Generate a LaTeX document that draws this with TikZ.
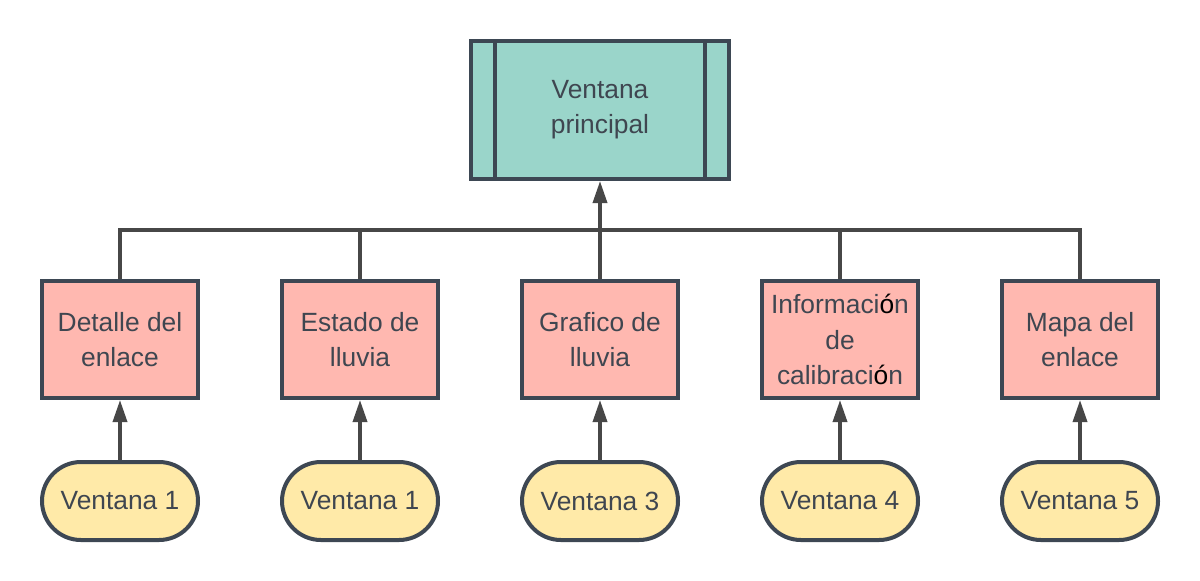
\documentclass[tikz,border=0pt]{standalone}
\usepackage{fontspec}
\setmainfont{Liberation Sans}
\usetikzlibrary{positioning,arrows.meta}

\definecolor{bordergray}{HTML}{3D4753}
\definecolor{textgray}{HTML}{3F4650}
\definecolor{linegray}{HTML}{474747}
\definecolor{tealfill}{HTML}{9AD5CA}
\definecolor{pinkfill}{HTML}{FFB8B0}
\definecolor{yellowfill}{HTML}{FFEAA8}

\tikzset{
  box/.style={draw=bordergray,line width=0.08cm,text=textgray,align=center,
    font=\fontsize{15}{20}\selectfont},
  mainbox/.style={box,fill=tealfill,minimum width=5.16cm,minimum height=2.76cm},
  viewbox/.style={box,fill=pinkfill,minimum width=3.12cm,minimum height=2.34cm},
  winbox/.style={box,fill=yellowfill,minimum width=3.12cm,minimum height=1.56cm,rounded corners=0.78cm},
  link/.style={draw=linegray,line width=0.07cm},
  uplink/.style={link,-{Triangle[width=0.28cm,length=0.44cm]}}
}

\begin{document}
\begin{tikzpicture}[node distance=1.2cm and 1.6cm]
\useasboundingbox (0,0) rectangle (24,-11.6);
\node[mainbox]                   (main) at (12,-2.2) {Ventana\\principal};
\node[viewbox,below=1.96cm of main] (graf)  {Grafico de\\lluvia};
\node[viewbox,left=of graf]         (est)   {Estado de\\lluvia};
\node[viewbox,left=of est]          (det)   {Detalle del\\enlace};
\node[viewbox,right=of graf]        (info)  {Informaci{\color{black}ó}n\\de\\calibraci{\color{black}ó}n};
\node[viewbox,right=of info]        (mapa)  {Mapa del\\enlace};
\node[winbox,below=of det]          (win1a) {Ventana 1};
\node[winbox,below=of est]          (win1b) {Ventana 1};
\node[winbox,below=of graf]         (win3)  {Ventana 3};
\node[winbox,below=of info]         (win4)  {Ventana 4};
\node[winbox,below=of mapa]         (win5)  {Ventana 5};
\coordinate (bus) at (12,-4.6);
% inner lines of the main window
\draw[bordergray,line width=0.08cm] ([xshift=0.52cm]main.north west) -- ([xshift=0.52cm]main.south west);
\draw[bordergray,line width=0.08cm] ([xshift=-0.52cm]main.north east) -- ([xshift=-0.52cm]main.south east);
% bus
\draw[link] (det.north) |- (bus) -| (mapa.north);
\draw[link] (est.north) -- (est.north |- bus);
\draw[link] (info.north) -- (info.north |- bus);
\draw[uplink] (graf.north) -- (main.south);
% windows
\draw[uplink] (win1a) -- (det);
\draw[uplink] (win1b) -- (est);
\draw[uplink] (win3) -- (graf);
\draw[uplink] (win4) -- (info);
\draw[uplink] (win5) -- (mapa);
\end{tikzpicture}
\end{document}
